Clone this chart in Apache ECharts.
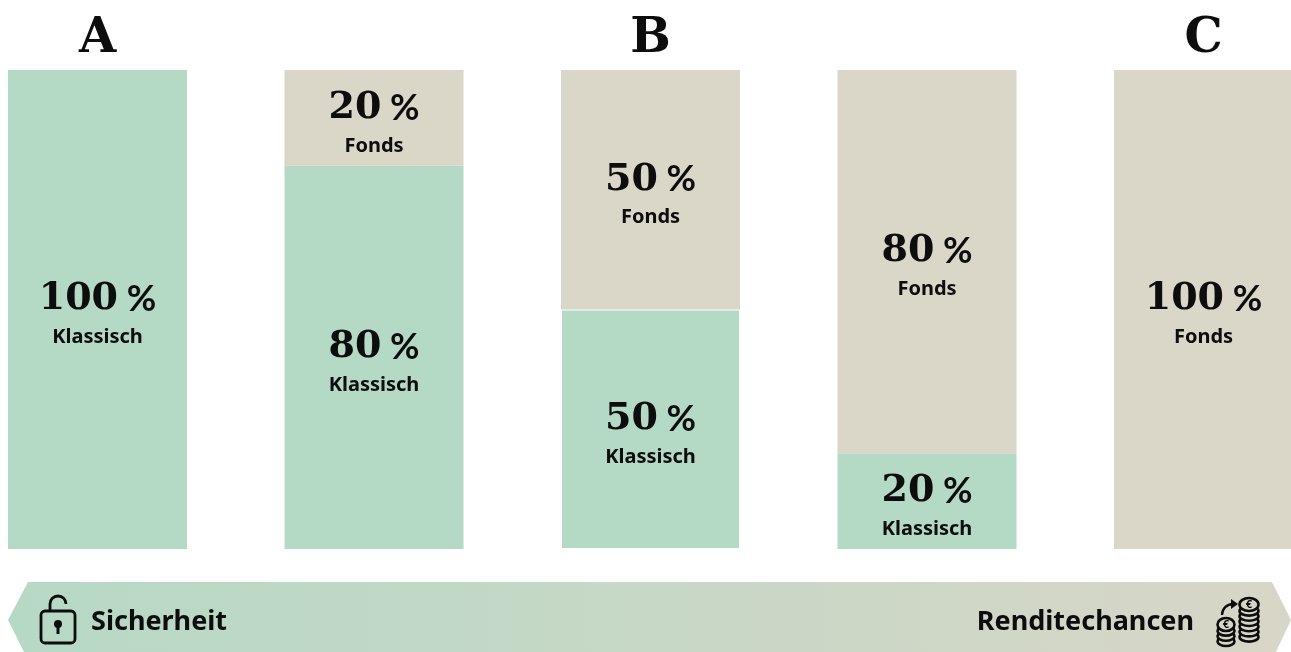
<!DOCTYPE html>
<html>
<head>
<meta charset="utf-8">
<style>
  html, body { margin: 0; padding: 0; background: #fff; }
  #chart { width: 1291px; height: 652px; }
</style>
<script src="https://cdn.jsdelivr.net/npm/echarts@6/dist/echarts.min.js"></script>
</head>
<body>
<div id="chart"></div>
<script>
  const categories = ['A', '', 'B', '', 'C']
  const klassisch = [100, 80, 50, 20, 0]
  const fonds = [0, 20, 50, 80, 100]

  const GREEN = '#b4d9c5'
  const SAND = '#dad6c8'
  const INK = '#0d0d0d'
  const SANS = '"Noto Sans", sans-serif'
  const SERIF = '"DejaVu Serif", serif'

  function segment_label (name) {
    return {
      show: true,
      position: 'inside',
      offset: [0, 7],
      formatter: (p) => p.value > 0 ? '{pct|' + p.value + '}{sym| %}\n{name|' + name + '}' : '',
      rich: {
        pct: {fontFamily: SERIF, fontWeight: 'bold', fontSize: 38, color: INK, lineHeight: 42},
        sym: {fontFamily: 'Lato, sans-serif', fontWeight: 'bold', fontSize: 36, color: INK, lineHeight: 42},
        name: {fontFamily: SANS, fontWeight: 'bold', fontSize: 20, color: INK, lineHeight: 34, align: 'center'}
      }
    }
  }

  // lock icon, left side of the banner
  const lock_icon = {
    type: 'group',
    children: [
      {type: 'rect', shape: {x: 41, y: 611, width: 34, height: 32, r: 4}, style: {fill: 'none', stroke: INK, lineWidth: 2.8}},
      {type: 'arc', shape: {cx: 58, cy: 604, r: 8, startAngle: Math.PI, endAngle: 2 * Math.PI, clockwise: true}, style: {fill: 'none', stroke: INK, lineWidth: 2.8}},
      {type: 'line', shape: {x1: 50, y1: 604, x2: 50, y2: 611}, style: {stroke: INK, lineWidth: 2.8}},
      {type: 'circle', shape: {cx: 58, cy: 624, r: 4}, style: {fill: INK}},
      {type: 'rect', shape: {x: 56.5, y: 625, width: 3, height: 9}, style: {fill: INK}}
    ]
  }

  // coin stack icon, right side of the banner
  function coin_stack (cx, top, rx, count) {
    const parts = []
    for (let i = count - 1; i >= 0; i--) {
      parts.push({
        type: 'ellipse',
        shape: {cx: cx, cy: top + 13 + i * 5.2, rx: rx, ry: 4.6},
        style: {fill: '#d6d5c6', stroke: INK, lineWidth: 2.6}
      })
    }
    parts.push({
      type: 'ellipse',
      shape: {cx: cx, cy: top + 6.5, rx: rx, ry: 6.5},
      style: {fill: '#d6d5c6', stroke: INK, lineWidth: 2.6}
    })
    parts.push({
      type: 'text',
      style: {x: cx, y: top + 6.5, text: '€', fill: INK, font: 'bold 11px "Noto Sans"', align: 'center', verticalAlign: 'middle'}
    })
    return parts
  }

  const coins_icon = {
    type: 'group',
    children: [
      ...coin_stack(1249, 598, 9.5, 6),
      ...coin_stack(1226, 618, 8.5, 3),
      {type: 'arc', shape: {cx: 1233, cy: 615, r: 11, startAngle: Math.PI, endAngle: 1.5 * Math.PI, clockwise: true}, style: {fill: 'none', stroke: INK, lineWidth: 2.4}},
      {type: 'polygon', shape: {points: [[1231, 599], [1238, 604], [1231, 609]]}, style: {fill: INK}}
    ]
  }

  const elem = echarts.init(document.getElementById('chart'))
  const option = {
    animation: false,
    grid: {left: -40.75, width: 1382.5, top: 70, height: 479, outerBoundsMode: 'none'},
    xAxis: {
      type: 'category',
      position: 'top',
      data: categories,
      axisLine: {show: false},
      axisTick: {show: false},
      axisLabel: {interval: 0, margin: 6, fontFamily: SERIF, fontWeight: 'bold', fontSize: 48, color: INK}
    },
    yAxis: {type: 'value', min: 0, max: 100, show: false},
    series: [
      {
        name: 'Klassisch',
        type: 'bar',
        stack: 'mix',
        barWidth: 179,
        itemStyle: {color: GREEN},
        label: segment_label('Klassisch'),
        // thin white divider under the middle column's Fonds part
        data: klassisch.map((v, i) => i === 2 ? {value: v, itemStyle: {borderColor: '#fff', borderWidth: 1}} : v)
      },
      {
        name: 'Fonds',
        type: 'bar',
        stack: 'mix',
        barWidth: 179,
        itemStyle: {color: SAND},
        label: segment_label('Fonds'),
        data: fonds
      }
    ],
    graphic: [
      {
        type: 'polygon',
        shape: {points: [[8, 620], [28, 582], [1272, 582], [1291, 620], [1272, 660], [28, 660]]},
        style: {
          fill: new echarts.graphic.LinearGradient(0, 0, 1, 0, [
            {offset: 0, color: '#b6d9c5'},
            {offset: 1, color: '#d8d6c7'}
          ])
        }
      },
      {type: 'text', style: {x: 91, y: 622, text: 'Sicherheit', fill: INK, font: 'bold 27px "Noto Sans"', verticalAlign: 'middle'}},
      {type: 'text', style: {x: 1194, y: 622, text: 'Renditechancen', fill: INK, font: 'bold 27px "Noto Sans"', align: 'right', verticalAlign: 'middle'}},
      lock_icon,
      coins_icon
    ]
  }
  elem.setOption(option)
</script>
</body>
</html>
